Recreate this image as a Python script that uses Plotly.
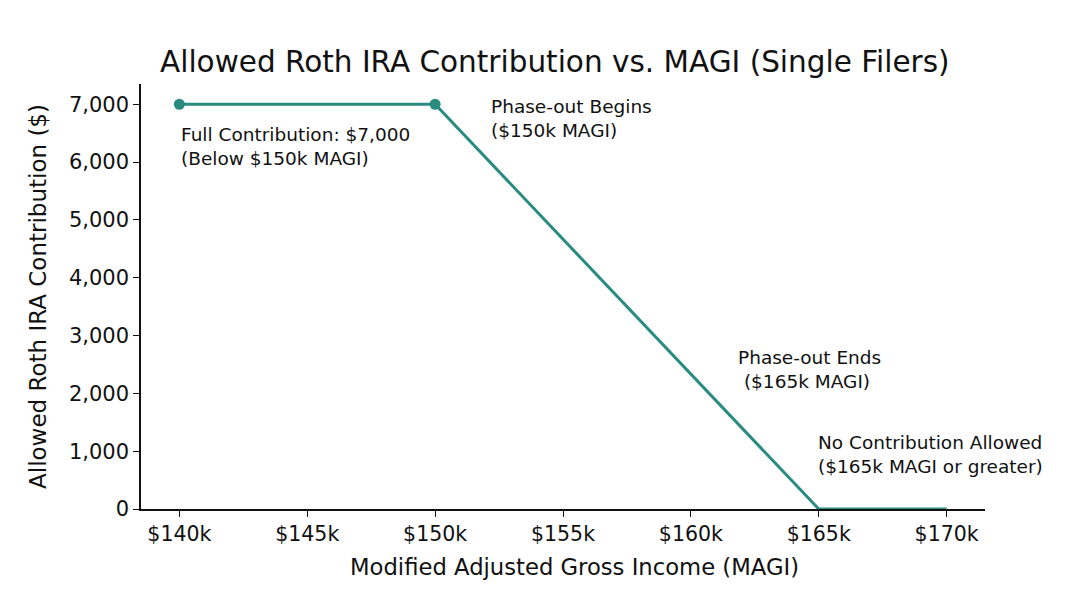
import plotly.graph_objects as go

# MAGI in $k, allowed contribution in $
magi_k = [140, 150, 165, 170]
allowed = [7000, 7000, 0, 0]
marker_magi_k = [140, 150]
marker_allowed = [7000, 7000]

x_ticks = [140, 145, 150, 155, 160, 165, 170]
x_tick_labels = ["$140k", "$145k", "$150k", "$155k", "$160k", "$165k", "$170k"]
y_ticks = [0, 1000, 2000, 3000, 4000, 5000, 6000, 7000]

notes = [
    (140, 6270, "Full Contribution: $7,000<br>(Below $150k MAGI)"),
    (152.1, 6760, "Phase-out Begins<br>($150k MAGI)"),
    (161.75, 2420, "Phase-out Ends<br>\u00a0($165k MAGI)"),
    (164.9, 940, "No Contribution Allowed<br>($165k MAGI or greater)"),
]

teal = "#2a8c80"
font = "DejaVu Sans"

fig = go.Figure()
fig.add_trace(go.Scatter(x=magi_k, y=allowed, mode="lines",
                         line=dict(color=teal, width=3), hoverinfo="skip"))
fig.add_trace(go.Scatter(x=marker_magi_k, y=marker_allowed, mode="markers",
                         marker=dict(color=teal, size=11), hoverinfo="skip"))

for x, y, txt in notes:
    fig.add_annotation(x=x, y=y, text=txt, showarrow=False, xanchor="left",
                       yanchor="middle", align="left",
                       font=dict(family=font, size=18.5, color="#111"))

# x label as paper annotation (sits a bit right of the axis centre in the original)
fig.add_annotation(xref="paper", yref="paper", x=0.514, y=-58 / 425,
                   text="Modified Adjusted Gross Income (MAGI)", showarrow=False,
                   xanchor="center", yanchor="middle",
                   font=dict(family=font, size=22.7, color="#111"))

# page body has an 8px margin, so the plot box is offset accordingly
fig.update_layout(
    width=1068, height=601, showlegend=False,
    paper_bgcolor="white", plot_bgcolor="white",
    margin=dict(l=133, r=91, t=76, b=100),
    font=dict(family=font, color="#111"),
    title=dict(text="Allowed Roth IRA Contribution vs. MAGI (Single Filers)",
               x=0.512, xanchor="center", y=0.91, yanchor="middle",
               font=dict(size=29.5, family=font, color="#111")),
)
fig.update_xaxes(range=[138.5, 171.5], tickvals=x_ticks, ticktext=x_tick_labels,
                 showgrid=False, zeroline=False, showline=True, linecolor="#111",
                 linewidth=1.5, ticks="outside", ticklen=6, tickcolor="#111",
                 tickfont=dict(size=20.5))
fig.update_yaxes(range=[0, 7350], tickvals=y_ticks, tickformat=",d",
                 showgrid=False, zeroline=False, showline=True, linecolor="#111",
                 linewidth=1.5, ticks="outside", ticklen=6, tickcolor="#111",
                 tickfont=dict(size=21),
                 title=dict(text="Allowed Roth IRA Contribution ($)",
                            font=dict(size=23), standoff=16))

fig.write_html("out.html")
